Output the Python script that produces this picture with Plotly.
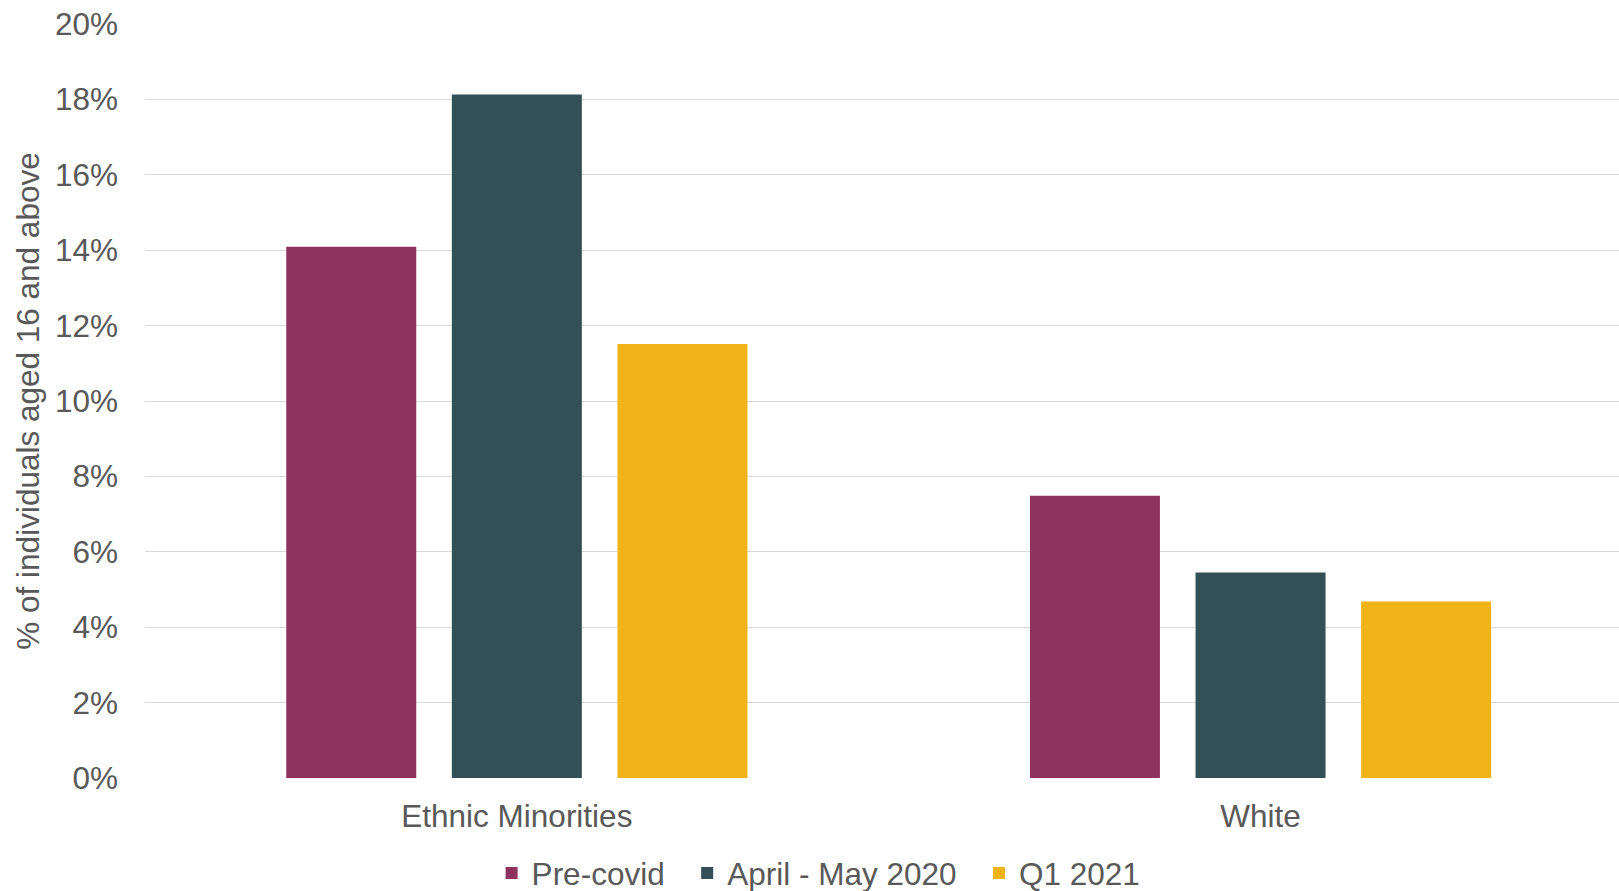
import plotly.graph_objects as go

# Share of individuals aged 16+ by ethnic group, across three periods
categories = ["Ethnic Minorities", "White"]
series_names = ["Pre-covid", "April - May 2020", "Q1 2021"]
pre_covid = [0.1409, 0.0749]
april_may_2020 = [0.1813, 0.0545]
q1_2021 = [0.1151, 0.0468]
y_ticks = [0, 0.02, 0.04, 0.06, 0.08, 0.10, 0.12, 0.14, 0.16, 0.18, 0.20]

colors = ["#8E3360", "#335056", "#F0B419"]
text_color = "#595959"
font_family = "Liberation Sans, Arial, sans-serif"
fsize = 31.5

# extra room after the first two legend entries
legend_pad = ["\u00a0\u00a0", "\u00a0\u00a0", ""]

fig = go.Figure()
for name, pad, values, color in zip(series_names, legend_pad,
                                    [pre_covid, april_may_2020, q1_2021], colors):
    fig.add_trace(go.Bar(
        name=name + pad,
        x=categories,
        y=values,
        marker=dict(color=color, line=dict(width=0)),
        hovertemplate=name + ": %{y:.1%}<extra>%{x}</extra>",
    ))

fig.update_layout(
    width=1619,
    height=891,
    margin=dict(l=145, r=0, t=24, b=113, autoexpand=False),
    paper_bgcolor="white",
    plot_bgcolor="white",
    barmode="group",
    bargap=0.332,
    bargroupgap=0.215,
    font=dict(family=font_family, size=fsize, color=text_color),
    showlegend=True,
    legend=dict(
        orientation="h",
        x=0.457,
        xanchor="center",
        y=-0.126,
        yanchor="middle",
        font=dict(family=font_family, size=fsize, color=text_color),
        bgcolor="rgba(0,0,0,0)",
        itemclick=False,
    ),
)

fig.update_xaxes(
    range=[-0.5, 1.482],
    showgrid=False,
    showline=False,
    zeroline=False,
    ticks="",
    ticklabelstandoff=16,
    tickfont=dict(family=font_family, size=fsize, color=text_color),
)

fig.update_yaxes(
    range=[0, 0.2],
    tickvals=y_ticks,
    tickformat=".0%",
    showgrid=True,
    gridcolor="#D9D9D9",
    gridwidth=1.25,
    zeroline=False,
    showline=False,
    ticks="",
    ticklabelstandoff=26,
    tickfont=dict(family=font_family, size=fsize, color=text_color),
    title=dict(
        text="% of individuals aged 16 and above",
        font=dict(family=font_family, size=fsize, color=text_color),
        standoff=5,
    ),
    automargin=False,
)

fig.write_html("out.html")
